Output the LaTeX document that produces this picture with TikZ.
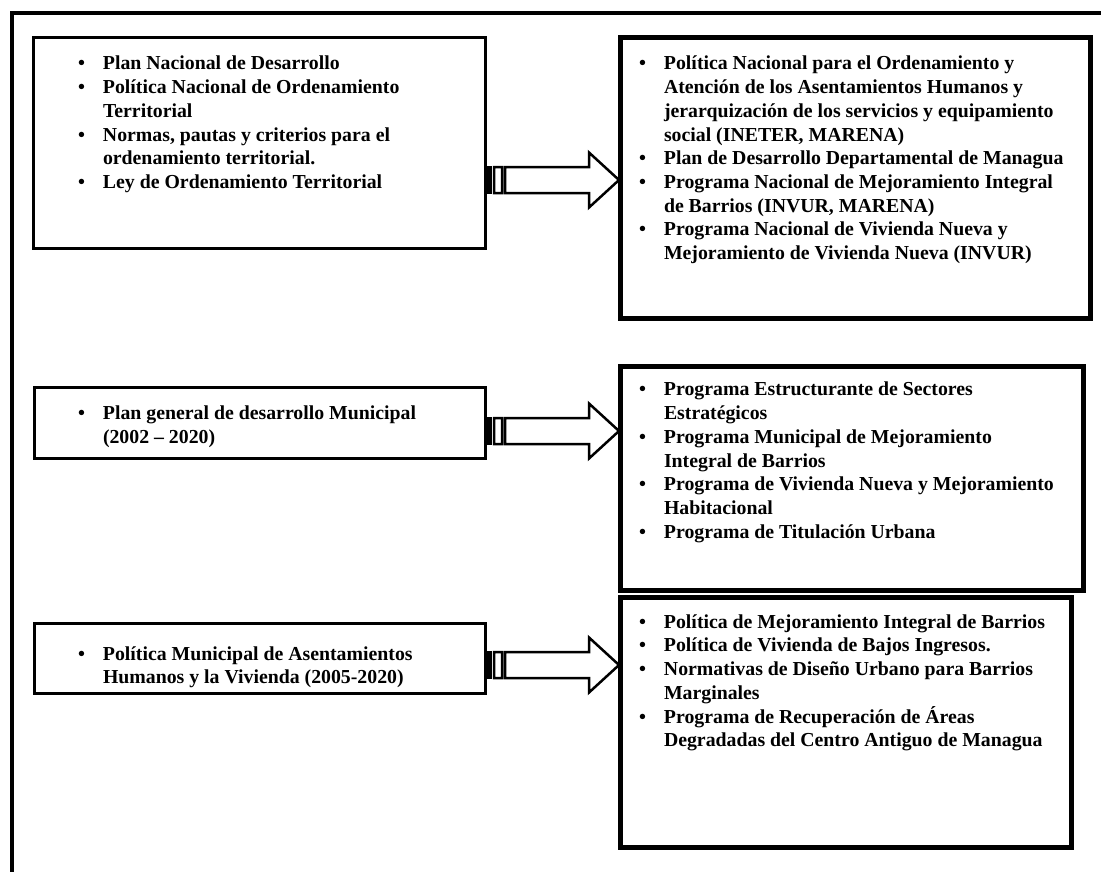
\documentclass[tikz,border=0pt]{standalone}
\usepackage{fontspec}
\setmainfont{Liberation Serif}
\usetikzlibrary{calc}

\tikzset{
  outerframe/.style={line width=4.5pt},
  srcbox/.style={draw, line width=3pt, anchor=north west, inner sep=0pt, outer sep=0pt},
  dstbox/.style={draw, line width=5pt, anchor=north west, inner sep=0pt, outer sep=0pt},
  items/.style={anchor=north west, inner sep=0pt, outer sep=0pt,
    font=\bfseries\fontsize{19.8}{23.7}\selectfont},
  arrowline/.style={line width=2.5pt, fill=white, line join=miter},
}

% bullet list laid out as a two-column table with a hanging second column
\newenvironment{bulletlist}{\begin{tabular}{@{}p{25pt}@{}l@{}}}{\end{tabular}}
\newcommand\bl{\textbullet}

% striped block arrow from the east side of #1 to the west side of #2, at level #3
\newcommand\stripedarrow[3]{%
  \draw[arrowline, fill=black] let \p1=(#1.east |- #3) in
    (\x1+1pt,\y1+13pt) rectangle (\x1+6pt,\y1-13pt);
  \draw[arrowline] let \p1=(#1.east |- #3), \p2=(#2.west |- #3) in
    (\x1+9pt,\y1+13pt) rectangle (\x1+17pt,\y1-13pt)
    (\x1+20pt,\y1+13pt) -- (\x2-31pt,\y1+13pt) -- (\x2-31pt,\y1+27.5pt)
    -- (\x2-1pt,\y1) -- (\x2-31pt,\y1-27.5pt) -- (\x2-31pt,\y1-13pt)
    -- (\x1+20pt,\y1-13pt) -- cycle;
}

\begin{document}
\begin{tikzpicture}[x=1pt, y=-1pt]
  \clip (0,0) rectangle (1101,871);
  \fill[white] (0,0) rectangle (1101,871);

  % surrounding frame, running off the right and bottom edges
  \draw[outerframe] (12,13) rectangle (1130,900);

  % boxes
  \node[srcbox, minimum width=452pt, minimum height=211pt] (b1) at (33,37) {};
  \node[dstbox, minimum width=470pt, minimum height=281pt] (b2) at (620,37) {};
  \node[srcbox, minimum width=451pt, minimum height=71pt] (b3) at (34,387) {};
  \node[dstbox, minimum width=463pt, minimum height=224pt] (b4) at (620,366) {};
  \node[srcbox, minimum width=451pt, minimum height=70pt] (b5) at (34,623) {};
  \node[dstbox, minimum width=451pt, minimum height=250pt] (b6) at (620,597) {};

  % texts
  \node[items] (t1) at (78,53.4) {\begin{bulletlist}
    \bl & Plan Nacional de Desarrollo\\
    \bl & Política Nacional de Ordenamiento\\
        & Territorial\\
    \bl & Normas, pautas y criterios para el\\
        & ordenamiento territorial.\\
    \bl & Ley de Ordenamiento Territorial
  \end{bulletlist}};

  \node[items] (t2) at (639,53.4) {\begin{bulletlist}
    \bl & Política Nacional para el Ordenamiento y\\
        & Atención de los Asentamientos Humanos y\\
        & jerarquización de los servicios y equipamiento\\
        & social (INETER, MARENA)\\
    \bl & Plan de Desarrollo Departamental de Managua\\
    \bl & Programa Nacional de Mejoramiento Integral\\
        & de Barrios (INVUR, MARENA)\\
    \bl & Programa Nacional de Vivienda Nueva y\\
        & Mejoramiento de Vivienda Nueva (INVUR)
  \end{bulletlist}};

  \node[items] (t3) at (78,403.4) {\begin{bulletlist}
    \bl & Plan general de desarrollo Municipal\\
        & (2002 – 2020)
  \end{bulletlist}};

  \node[items] (t4) at (639,379.4) {\begin{bulletlist}
    \bl & Programa Estructurante de Sectores\\
        & Estratégicos\\
    \bl & Programa Municipal de Mejoramiento\\
        & Integral de Barrios\\
    \bl & Programa de Vivienda Nueva y Mejoramiento\\
        & Habitacional\\
    \bl & Programa de Titulación Urbana
  \end{bulletlist}};

  \node[items] (t5) at (78,643.4) {\begin{bulletlist}
    \bl & Política Municipal de Asentamientos\\
        & Humanos y la Vivienda (2005-2020)
  \end{bulletlist}};

  \node[items] (t6) at (639,611.4) {\begin{bulletlist}
    \bl & Política de Mejoramiento Integral de Barrios\\
    \bl & Política de Vivienda de Bajos Ingresos.\\
    \bl & Normativas de Diseño Urbano para Barrios\\
        & Marginales\\
    \bl & Programa de Recuperación de Áreas\\
        & Degradadas del Centro Antiguo de Managua
  \end{bulletlist}};

  % arrow levels
  \coordinate (y1) at (0,180);
  \coordinate (y2) at (0,431);
  \coordinate (y3) at (0,665);

  \stripedarrow{b1}{b2}{y1}
  \stripedarrow{b3}{b4}{y2}
  \stripedarrow{b5}{b6}{y3}
\end{tikzpicture}
\end{document}
